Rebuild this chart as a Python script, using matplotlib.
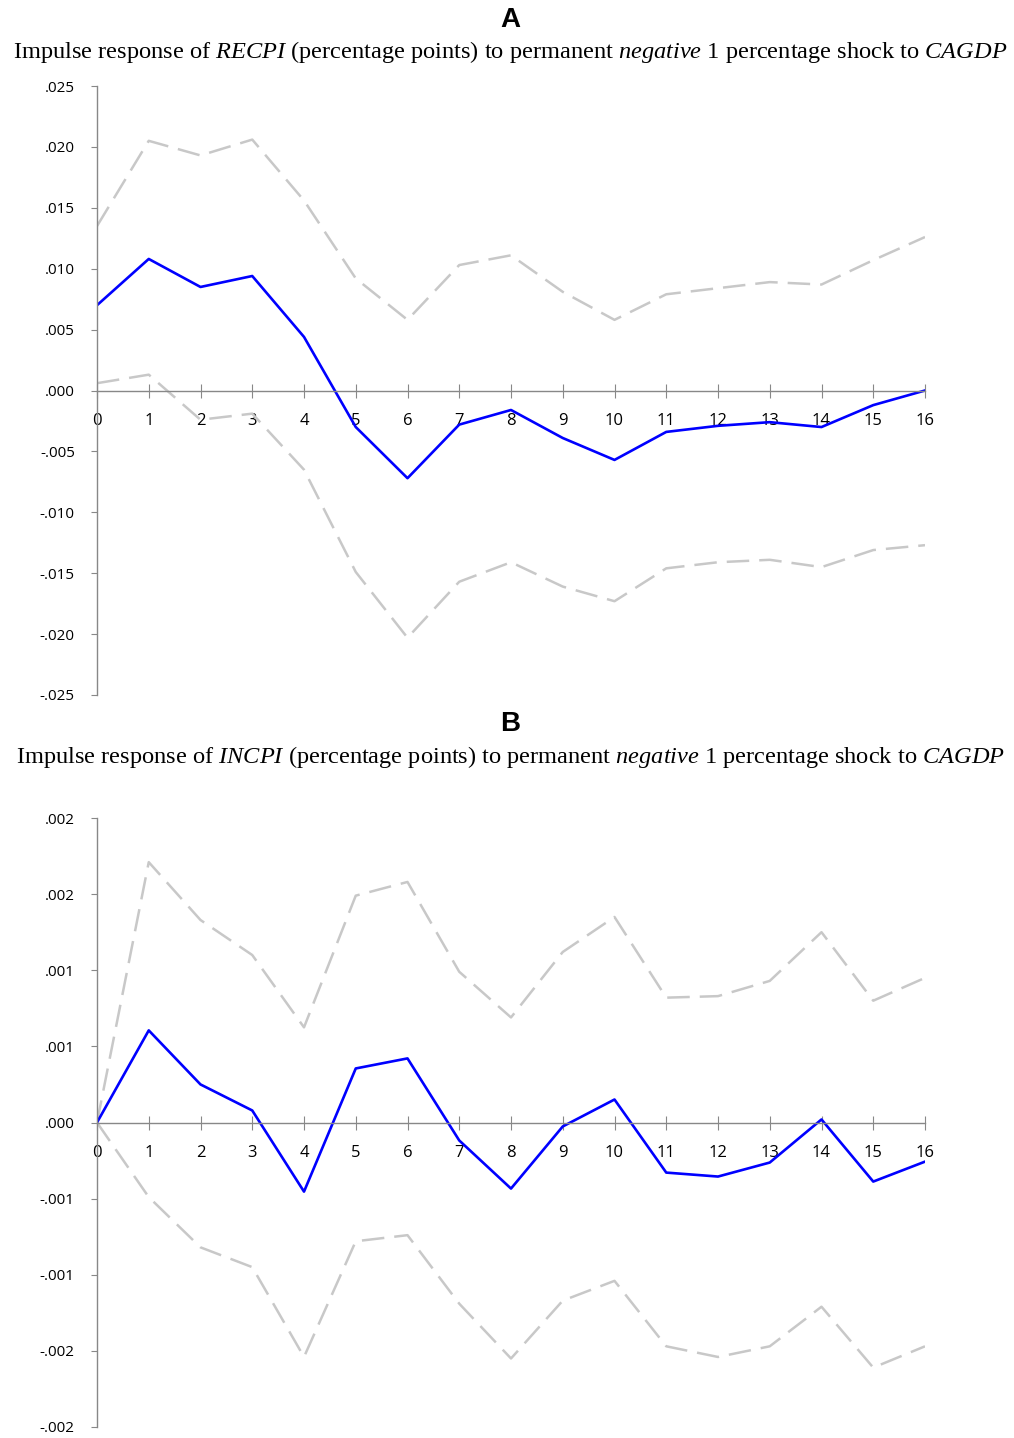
import numpy as np
import matplotlib.pyplot as plt

plt.rcParams['mathtext.fontset'] = 'custom'
plt.rcParams['mathtext.rm'] = 'Liberation Serif'
plt.rcParams['mathtext.it'] = 'Liberation Serif:italic'

periods = np.arange(17)

# panel A: RECPI
recpi = [0.0070, 0.0108, 0.0085, 0.0094, 0.0044, -0.0030, -0.0072, -0.0028, -0.0016,
         -0.0039, -0.0057, -0.0034, -0.0029, -0.0026, -0.0030, -0.0012, 0.0000]
recpi_hi = [0.0135, 0.0205, 0.0193, 0.0206, 0.0156, 0.0092, 0.0058, 0.0103, 0.0111,
            0.0081, 0.0058, 0.0079, 0.0084, 0.0089, 0.0087, 0.0107, 0.0126]
recpi_lo = [0.0006, 0.0013, -0.0024, -0.0019, -0.0065, -0.0149, -0.0203, -0.0157, -0.0141,
            -0.0161, -0.0173, -0.0146, -0.0141, -0.0139, -0.0145, -0.0131, -0.0127]
ticks_a = [-0.025, -0.020, -0.015, -0.010, -0.005, 0.0, 0.005, 0.010, 0.015, 0.020, 0.025]
labels_a = ['-.025', '-.020', '-.015', '-.010', '-.005', '.000', '.005', '.010', '.015', '.020', '.025']

# panel B: INCPI
incpi = [0.0, 0.000605, 0.00025, 0.000079, -0.000454, 0.000355, 0.000421, -0.000118, -0.000434,
         -0.000026, 0.000151, -0.000329, -0.000355, -0.000263, 0.00002, -0.000388, -0.000257]
incpi_hi = [0.0, 0.00171, 0.00133, 0.0011, 0.000625, 0.00149, 0.00158, 0.00099, 0.00069,
            0.00112, 0.00135, 0.00082, 0.00083, 0.00093, 0.00125, 0.0008, 0.00095]
incpi_lo = [0.0, -0.00049, -0.00082, -0.00095, -0.00154, -0.00078, -0.00074, -0.00119, -0.00155,
            -0.00117, -0.00104, -0.00147, -0.00154, -0.00147, -0.00121, -0.00161, -0.00147]
ticks_b = [-0.002, -0.0015, -0.001, -0.0005, 0.0, 0.0005, 0.001, 0.0015, 0.002]
labels_b = ['-.002', '-.002', '-.001', '-.001', '.000', '.001', '.001', '.002', '.002']

fig = plt.figure(figsize=(10.14, 14.38), dpi=100)


def panel(rect, mid, hi, lo, yticks, ylabels, letter, var, y_letter, y_title):
    ax = fig.add_axes(rect)
    ax.plot(periods, hi, color='#c8c8c8', lw=1.8, dashes=(9, 4))
    ax.plot(periods, lo, color='#c8c8c8', lw=1.8, dashes=(9, 4))
    ax.plot(periods, mid, color='#0000ff', lw=1.9)
    ax.set_xlim(0, 16)
    ax.set_ylim(yticks[0], yticks[-1])
    ax.spines['top'].set_visible(False)
    ax.spines['right'].set_visible(False)
    ax.spines['bottom'].set_position(('data', 0))
    for s in ('left', 'bottom'):
        ax.spines[s].set_color('#888888')
        ax.spines[s].set_linewidth(1.0)
    ax.set_xticks(periods)
    ax.set_xticklabels([str(p) for p in periods], fontfamily='Open Sans', fontsize=12)
    ax.tick_params(axis='x', direction='inout', length=10, color='#888888', pad=11)
    ax.set_yticks(yticks)
    ax.set_yticklabels(ylabels, fontfamily='Open Sans', fontsize=11)
    ax.tick_params(axis='y', direction='out', length=4, color='#888888', pad=12)
    fig.text(0.503, y_letter, letter, ha='center', va='center',
             fontfamily='Liberation Sans', fontweight='bold', fontsize=20)
    title = ('Impulse response of $\\mathit{%s}$ (percentage points) to permanent '
             '$\\mathit{negative}$ 1 percentage shock to $\\mathit{CAGDP}$' % var)
    fig.text(0.503, y_title, title, ha='center', va='center',
             fontfamily='Liberation Serif', fontsize=17.6)
    return ax


panel([97 / 1014, 1 - 695 / 1438, 828 / 1014, 609 / 1438], recpi, recpi_hi, recpi_lo,
      ticks_a, labels_a, 'A', 'RECPI', 1 - 20 / 1438, 1 - 52 / 1438)
panel([97 / 1014, 1 - 1427 / 1438, 828 / 1014, 609 / 1438], incpi, incpi_hi, incpi_lo,
      ticks_b, labels_b, 'B', 'INCPI', 1 - 724 / 1438, 1 - 757 / 1438)

fig.savefig('out.png', dpi=100)
